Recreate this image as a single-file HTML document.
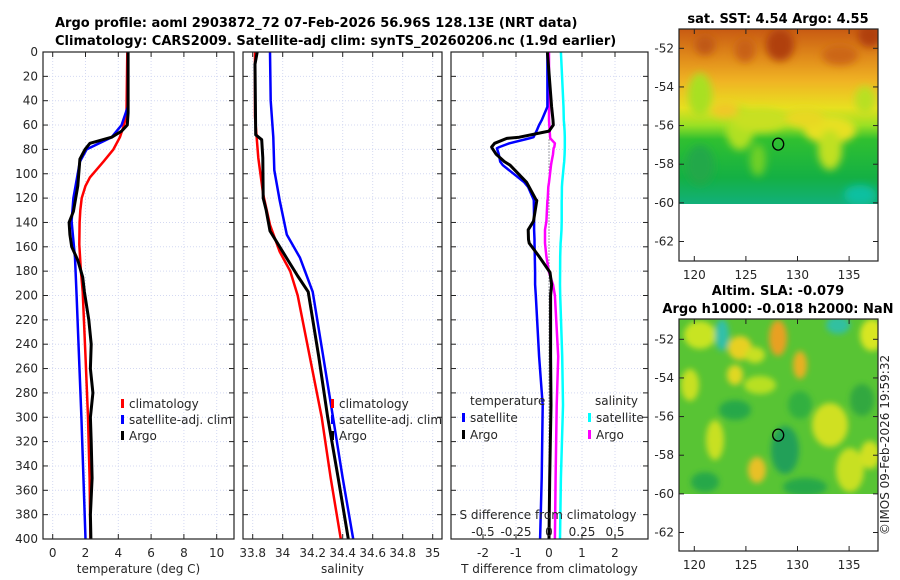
<!DOCTYPE html>
<html><head><meta charset="utf-8">
<style>
html,body{margin:0;padding:0;background:#fff;}
svg{display:block;font-family:"DejaVu Sans","Liberation Sans",sans-serif;}
.t{font-size:12px;fill:#262626;}
.b{font-size:13px;font-weight:bold;fill:#000;}
</style></head>
<body>
<svg id="fig" width="900" height="580" viewBox="0 0 900 580" xmlns="http://www.w3.org/2000/svg">
<defs>
<filter id="blur" x="-50%" y="-50%" width="200%" height="200%"><feGaussianBlur stdDeviation="4"/></filter>
<filter id="blur2" x="-50%" y="-50%" width="200%" height="200%"><feGaussianBlur stdDeviation="3"/></filter>
<linearGradient id="sstg" x1="0" y1="0" x2="0" y2="1">
<stop offset="0" stop-color="#c85a12"/><stop offset="0.16" stop-color="#e08a1a"/>
<stop offset="0.3" stop-color="#f0b424"/><stop offset="0.45" stop-color="#e8e020"/>
<stop offset="0.55" stop-color="#9ae024"/><stop offset="0.63" stop-color="#30c030"/>
<stop offset="0.85" stop-color="#14b044"/><stop offset="1" stop-color="#12b07a"/>
</linearGradient>
<clipPath id="c1"><rect x="679" y="29" width="199" height="175"/></clipPath>
<clipPath id="c2"><rect x="679" y="319" width="199" height="175"/></clipPath>
</defs>
<text class="b" x="55" y="27">Argo profile: aoml 2903872_72 07-Feb-2026 56.96S 128.13E (NRT data)</text>
<text class="b" x="55" y="45">Climatology: CARS2009. Satellite-adj clim: synTS_20260206.nc (1.9d earlier)</text>
<g id="panels"></g>
<g id="maps"></g>
</svg>
<script>
// ---- data (depth in m) ----
const depthTClim = [0,50,53,60,70,80,90,103,110,120,130,140,158,180,197,250,300,350,400];
const tempClim   = [4.55,4.5,4.47,4.35,4.1,3.7,3.1,2.27,2.0,1.77,1.68,1.64,1.62,1.72,1.83,2.0,2.15,2.25,2.3];
const depthTSat  = [0,45,60,70,80,90,120,139,169,200,300,400];
const tempSat    = [4.6,4.58,4.2,3.6,2.07,1.66,1.26,1.15,1.36,1.46,1.75,2.0];
const depthTArgo = [0,50,60,65,70,75,80,88,110,131,140,150,160,171,185,197,220,240,260,280,300,320,350,380,400];
const tempArgo   = [4.6,4.6,4.55,4.2,3.6,2.27,1.97,1.66,1.53,1.26,1.0,1.05,1.16,1.53,1.83,1.93,2.2,2.35,2.3,2.45,2.3,2.35,2.4,2.3,2.33];

const depthSClim = [0,53,87,117,142,164,180,200,250,300,350,400];
const salClim    = [33.815,33.815,33.837,33.87,33.915,33.98,34.05,34.1,34.18,34.26,34.32,34.387];
const depthSSat  = [0,40,70,97,122,150,169,197,250,300,350,400];
const salSat     = [33.915,33.92,33.937,33.944,33.98,34.027,34.115,34.2,34.27,34.335,34.4,34.47];
const depthSArgo = [0,10,68,72,87,120,130,147,170,184,197,250,300,350,400];
const salArgo    = [33.83,33.815,33.82,33.86,33.867,33.87,33.89,33.915,34.03,34.1,34.17,34.24,34.3,34.37,34.437];

const depthDiff   = [0,45,56,60,65,70,71,75,78,79,84,90,93,107,111,121,122,139,146,154,157,168,181,191,200,250,290,350,400];
const dTSat       = [-0.05,-0.05,-0.22,-0.3,-0.38,-0.47,-0.6,-1.2,-1.5,-1.58,-1.52,-1.48,-1.4,-0.75,-0.63,-0.47,-0.46,-0.45,-0.45,-0.44,-0.44,-0.43,-0.42,-0.42,-0.4,-0.3,-0.19,-0.22,-0.27];
const dTArgo      = [-0.05,0.08,0.12,0.13,0.0,-0.9,-1.28,-1.65,-1.74,-1.72,-1.6,-1.35,-1.18,-0.68,-0.6,-0.4,-0.37,-0.47,-0.63,-0.62,-0.6,-0.3,0.03,0.08,0.05,0.05,0.06,0.02,0.0];
const dSArgo      = [0,0,0,0.002,0.005,0.008,0.01,0.045,0.04,0.035,0.03,0.02,0.015,0.0,-0.005,-0.01,-0.012,-0.02,-0.03,-0.03,-0.03,-0.02,0.0,0.03,0.045,0.07,0.058,0.05,0.045];
const dSSat       = [0.09,0.11,0.112,0.115,0.118,0.12,0.12,0.12,0.12,0.12,0.118,0.115,0.112,0.1,0.098,0.097,0.096,0.096,0.095,0.09,0.088,0.085,0.084,0.083,0.085,0.1,0.106,0.09,0.083];

const depthTicks = [0,20,40,60,80,100,120,140,160,180,200,220,240,260,280,300,320,340,360,380,400];
const tempTicks = [0,2,4,6,8,10];
const salTicks = [33.8,34,34.2,34.4,34.6,34.8,35];
const salTickLabels = ["33.8","34","34.2","34.4","34.6","34.8","35"];
const dTTicks = [-2,-1,0,1,2];
const dSTicks = [-0.5,-0.25,0,0.25,0.5];
const dSTickLabels = ["-0.5","-0.25","0","0.25","0.5"];

const NS = "http://www.w3.org/2000/svg";
const panels = document.getElementById('panels');
const TOP = 52, BOT = 539;
const yScale = d => TOP + d/400*(BOT-TOP);
function mk(tag, attrs, parent){const e=document.createElementNS(NS,tag);for(const k in attrs)e.setAttribute(k,attrs[k]);(parent||panels).appendChild(e);return e;}
function txt(x,y,s,anchor,parent,cls){const e=mk('text',{x:x,y:y,'text-anchor':anchor||'middle',class:cls||'t'},parent);e.textContent=s;return e;}

function frame(name,x0,x1,xScale,ticks,labels,xlabel){
  const g = mk('g',{});
  
  
  depthTicks.forEach(d=>{ if(d>0&&d<400){mk('line',{x1:x0,x2:x1,y1:yScale(d),y2:yScale(d),stroke:'#d4d9f2','stroke-width':1,'stroke-dasharray':'1,2'},g);}});
  ticks.forEach(v=>{const x=xScale(v);mk('line',{x1:x,x2:x,y1:TOP,y2:BOT,stroke:'#d4d9f2','stroke-width':1,'stroke-dasharray':'1,2'},g);});
  depthTicks.forEach(d=>{const y=yScale(d);mk('line',{x1:x0,x2:x0+5,y1:y,y2:y,stroke:'#222'},g);mk('line',{x1:x1-5,x2:x1,y1:y,y2:y,stroke:'#222'},g);});
  ticks.forEach((v,i)=>{const x=xScale(v);mk('line',{x1:x,x2:x,y1:BOT-5,y2:BOT,stroke:'#222'},g);mk('line',{x1:x,x2:x,y1:TOP,y2:TOP+5,stroke:'#222'},g);
    if(labels){const t=txt(x,557,labels[i],'middle',g);}});
  if(xlabel){const t=txt((x0+x1)/2,573,xlabel,'middle',g);}
  return g;
}
function border(x0,x1){mk('rect',{x:x0,y:TOP,width:x1-x0,height:BOT-TOP,fill:'none',stroke:'#222','stroke-width':1.2});}
function line(xs,ds,xScale,color,w,name){
  const pts = xs.map((v,i)=>xScale(v).toFixed(1)+','+yScale(ds[i]).toFixed(1)).join(' ');
  const p = mk('polyline',{points:pts,fill:'none',stroke:color,'stroke-width':w,'stroke-linejoin':'round'});
  
  
}
function legItem(x,y,color,label,name){
  mk('rect',{x:x,y:y-9,width:3,height:9,fill:color});
  const t=txt(x+8,y,label,'start');
  
  
}

const xT = v => 52.7 + v*16.4;
frame('temperature-panel',43,234,xT,tempTicks,tempTicks.map(String),'temperature (deg C)');
depthTicks.forEach(d=>{const t=txt(38,yScale(d)+4,String(d),'end');});
line(tempClim,depthTClim,xT,'#ff0000',2.5,'temp-climatology-line');
line(tempSat,depthTSat,xT,'#0000ff',2.5,'temp-satellite-line');
line(tempArgo,depthTArgo,xT,'#000000',3,'temp-argo-line');
border(43,234);
legItem(121,408,'#ff0000','climatology','legend-climatology');
legItem(121,424,'#0000ff','satellite-adj. clim','legend-satellite-adj');
legItem(121,440,'#000000','Argo','legend-argo');

const xS = v => 252.7 + (v-33.8)*150;
frame('salinity-panel',243,442,xS,salTicks,salTickLabels,'salinity');
line(salClim,depthSClim,xS,'#ff0000',2.5,'sal-climatology-line');
line(salSat,depthSSat,xS,'#0000ff',2.5,'sal-satellite-line');
line(salArgo,depthSArgo,xS,'#000000',3,'sal-argo-line');
border(243,442);
legItem(331,408,'#ff0000','climatology','legend-climatology-2');
legItem(331,424,'#0000ff','satellite-adj. clim','legend-satellite-adj-2');
legItem(331,440,'#000000','Argo','legend-argo-2');

const xDT = v => 549 + v*33;
const xDS = v => 549 + v*132;
frame('difference-panel',451,648,xDT,dTTicks,dTTicks.map(String),'T difference from climatology');
mk('line',{x1:549,x2:549,y1:yScale(72),y2:BOT,stroke:'#555','stroke-width':1,'stroke-dasharray':'1,2'});
line(dSSat,depthDiff,xDS,'#00ffff',2.5,'sdiff-satellite-line');
line(dSArgo,depthDiff,xDS,'#ff00ff',2.5,'sdiff-argo-line');
line(dTSat,depthDiff,xDT,'#0000ff',2.5,'tdiff-satellite-line');
line(dTArgo,depthDiff,xDT,'#000000',3,'tdiff-argo-line');
border(451,648);
{const t=txt(470,405,'temperature','start');}
{const t=txt(595,405,'salinity','start');}
legItem(462,422,'#0000ff','satellite','legend-t-satellite');
legItem(462,439,'#000000','Argo','legend-t-argo');
legItem(588,422,'#00ffff','satellite','legend-s-satellite');
legItem(588,439,'#ff00ff','Argo','legend-s-argo');
{const t=txt(548,519,'S difference from climatology','middle');}
dSTicks.forEach((v,i)=>{const t=txt(xDS(v),536,dSTickLabels[i],'middle');});

// ---- maps ----
const maps = document.getElementById('maps');
const latTicks = [-52,-54,-56,-58,-60,-62];
const lonTicks = [120,125,130,135];
const argoLon = 128.13, argoLat = -56.96;
function mapFrame(name,top,bot,latRef,title1,title2){
  const g=mk('g',{},maps);
  
  
  const xL = v => 694.3 + (v-120)*10.32;
  const yL = v => latRef + (-52 - v)*19.32;
  latTicks.forEach(v=>{const y=yL(v);mk('line',{x1:679,x2:684,y1:y,y2:y,stroke:'#222'},g);mk('line',{x1:873,x2:878,y1:y,y2:y,stroke:'#222'},g);
    const t=txt(674,y+4,String(v),'end',g);});
  lonTicks.forEach(v=>{const x=xL(v);mk('line',{x1:x,x2:x,y1:bot-5,y2:bot,stroke:'#222'},g);mk('line',{x1:x,x2:x,y1:top,y2:top+5,stroke:'#222'},g);
    const t=txt(x,bot+18,String(v),'middle',g);});
  mk('rect',{x:679,y:top,width:199,height:bot-top,fill:'none',stroke:'#222','stroke-width':1.2},g);
  const c=mk('ellipse',{cx:xL(argoLon),cy:yL(argoLat),rx:5.5,ry:6,fill:'none',stroke:'#000','stroke-width':1.3},g);
  
  
  if(title1){const t=txt(778,title2?top-24:top-6,title1,'middle',g,'b');}
  if(title2){const t=txt(778,top-6,title2,'middle',g,'b');}
}
{const g=mk('g',{'clip-path':'url(#c1)'},maps);
 
 
 mk('rect',{x:679,y:29,width:199,height:175,fill:'url(#sstg)'},g);
 const gb=mk('g',{filter:'url(#blur)'},g);
 [[780,45,14,16,'#b0400e'],[870,35,12,12,'#b0400e'],[705,45,10,10,'#c05812'],[745,50,10,12,'#c86014'],[840,55,18,10,'#cc6616'],
  [740,128,14,22,'#b0e020'],[760,120,28,12,'#c8e020'],[830,130,26,14,'#e8e020'],[830,150,12,20,'#c0e020'],[805,118,20,10,'#e8d820'],
  [700,95,12,22,'#a8e024'],[865,100,10,14,'#b8e020'],[700,165,14,20,'#20a848'],[860,195,16,10,'#10c0a0'],[725,110,14,8,'#f0c828'],
  [758,160,8,16,'#70d028']].forEach(b=>mk('ellipse',{cx:b[0],cy:b[1],rx:b[2],ry:b[3],fill:b[4]},gb));
}
mapFrame('sst-map',29,261,48.3,'sat. SST: 4.54 Argo: 4.55',null);
{const g=mk('g',{'clip-path':'url(#c2)'},maps);
 
 
 mk('rect',{x:679,y:319,width:199,height:175,fill:'#58c434'},g);
 const gb=mk('g',{filter:'url(#blur2)'},g);
 [[700,335,16,14,'#c8e424'],[722,335,7,16,'#30c0a8'],[740,348,12,12,'#e8d020'],[778,338,9,18,'#e8a020'],[800,365,7,14,'#e8b020'],
  [838,325,12,9,'#30c0a0'],[872,335,12,16,'#d8e620'],[760,385,16,9,'#b8e024'],[830,425,18,22,'#d0e020'],[850,470,14,22,'#c8e020'],
  [757,470,9,13,'#e8c028'],[715,440,9,20,'#c8e024'],[785,450,14,24,'#20a058'],[735,410,16,10,'#28a848'],[705,482,14,10,'#28a848'],
  [800,405,12,14,'#30b040'],[862,400,12,16,'#30a840'],[690,385,9,16,'#c8e020'],[805,487,22,9,'#28a848'],[755,355,10,8,'#c8e020'],
  [870,455,10,14,'#d0e020'],[735,375,8,10,'#e0d820']].forEach(b=>mk('ellipse',{cx:b[0],cy:b[1],rx:b[2],ry:b[3],fill:b[4]},gb));
}
mapFrame('sla-map',319,551,339.3,'Altim. SLA: -0.079','Argo h1000: -0.018 h2000: NaN');
{const t=txt(0,0,'©IMOS 09-Feb-2026 19:59:32','middle',maps);
 t.setAttribute('transform','translate(889,445) rotate(-90)');
 
 }
</script>
</body></html>
